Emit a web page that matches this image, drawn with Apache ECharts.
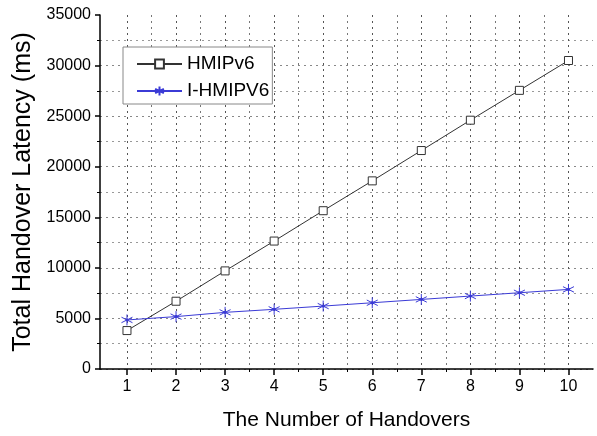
<!DOCTYPE html>
<html><head><meta charset="utf-8">
<script src="https://cdn.jsdelivr.net/npm/echarts@6/dist/echarts.min.js"></script>
<style>html,body{margin:0;padding:0;background:#fff}#c{width:597px;height:436px}</style>
</head><body><div id="c"></div>
<script>
const handovers = [1, 2, 3, 4, 5, 6, 7, 8, 9, 10];
const minorX = [1.5, 2.5, 3.5, 4.5, 5.5, 6.5, 7.5, 8.5, 9.5];
const hmipv6 = [3800, 6700, 9700, 12650, 15650, 18600, 21600, 24600, 27550, 30500];
const ihmipv6 = [4850, 5180, 5600, 5900, 6220, 6550, 6880, 7210, 7540, 7870];
const seriesNames = ['HMIPv6', 'I-HMIPV6'];
const xTitle = 'The Number of Handovers';
const yTitle = 'Total Handover Latency (ms)';

const FONT = '"Liberation Sans", Arial, sans-serif';
const asterisk = 'path://M5 0 L5 10 M0.7 2.5 L9.3 7.5 M0.7 7.5 L9.3 2.5 M4.2 4.2 L5.8 4.2 L5.8 5.8 L4.2 5.8 Z';
const chart = echarts.init(document.getElementById('c'), null, {renderer: 'canvas'});
chart.setOption({
  animation: false,
  backgroundColor: '#fff',
  grid: {left: 100, right: 4, top: 15, bottom: 65},
  legend: {
    orient: 'vertical', left: 123, top: 47,
    padding: [6, 3, 2, 13], itemGap: 5, itemWidth: 45, itemHeight: 11,
    backgroundColor: '#fff', borderColor: '#888', borderWidth: 1, borderRadius: 0,
    textStyle: {fontFamily: FONT, fontSize: 19, color: '#000', lineHeight: 22},
    data: seriesNames
  },
  xAxis: [{
    type: 'value', min: 0.45, max: 10.5, position: 'bottom',
    name: xTitle, nameLocation: 'middle', nameGap: 41,
    nameTextStyle: {fontFamily: FONT, fontSize: 21, color: '#000'},
    axisLine: {show: true, onZero: false, lineStyle: {color: '#000', width: 1.5}},
    axisTick: {show: true, inside: false, length: 6, customValues: handovers, lineStyle: {color: '#000', width: 1.5}},
    axisLabel: {customValues: handovers, margin: 10, fontFamily: FONT, fontSize: 16, color: '#000'},
    splitLine: {show: true, lineStyle: {color: '#555', type: [2, 4], width: 1}}
  }, {
    type: 'value', min: 0.45, max: 10.5, position: 'bottom',
    axisLine: {show: false},
    axisTick: {show: true, length: 3, customValues: minorX, lineStyle: {color: '#000', width: 1}},
    axisLabel: {show: false, customValues: minorX},
    splitLine: {show: true, lineStyle: {color: '#777', type: [2, 4], width: 1}}
  }],
  yAxis: {
    type: 'value', min: 0, max: 35000, interval: 5000,
    name: yTitle, nameLocation: 'middle', nameGap: 62,
    nameTextStyle: {fontFamily: FONT, fontSize: 25, color: '#000'},
    axisLine: {show: true, lineStyle: {color: '#000', width: 1.5}},
    axisTick: {show: true, length: 5, lineStyle: {color: '#000', width: 1.5}},
    minorTick: {show: true, splitNumber: 2, length: 3, lineStyle: {color: '#000', width: 1}},
    axisLabel: {margin: 9, fontFamily: FONT, fontSize: 16, color: '#000', formatter: v => String(v)},
    splitLine: {show: true, showMaxLine: false, lineStyle: {color: '#888', type: [2, 4], width: 1}},
    minorSplitLine: {show: true, lineStyle: {color: '#999', type: [2, 4], width: 1}}
  },
  series: [{
    name: seriesNames[0], type: 'line', xAxisIndex: 0,
    data: handovers.map((x, i) => [x, hmipv6[i]]),
    symbol: 'rect', symbolSize: 8,
    lineStyle: {color: '#333', width: 1},
    itemStyle: {color: '#fff', borderColor: '#333', borderWidth: 1},
    z: 3
  }, {
    name: seriesNames[1], type: 'line', xAxisIndex: 0,
    data: handovers.map((x, i) => [x, ihmipv6[i]]),
    symbol: asterisk, symbolSize: 11,
    lineStyle: {color: '#3b3bd6', width: 1},
    itemStyle: {color: '#2222bb', borderColor: '#3b3bd6', borderWidth: 1},
    z: 4
  }]
});
</script></body></html>
